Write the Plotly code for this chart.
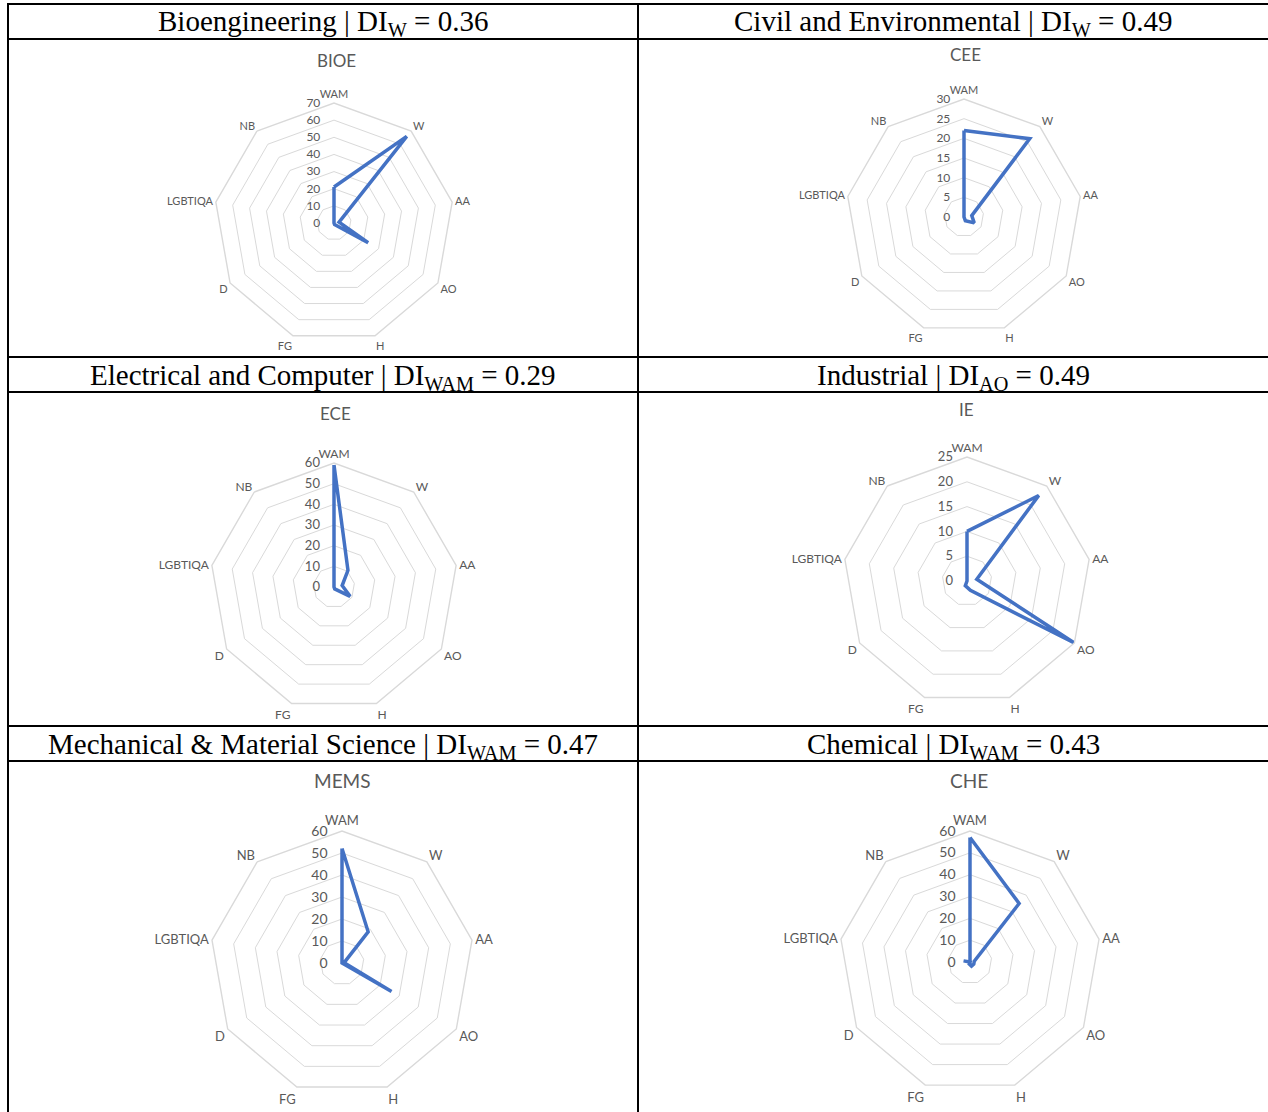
import plotly.graph_objects as go

W_PX, H_PX = 1268, 1112

categories = ["WAM", "W", "AA", "AO", "H", "FG", "D", "LGBTIQA", "NB"]

chart_titles = ["BIOE", "CEE", "ECE", "IE", "MEMS", "CHE"]
header_names = ["Bioengineering", "Civil and Environmental", "Electrical and Computer",
                "Industrial", "Mechanical &amp; Material Science", "Chemical"]
header_sub = ["W", "W", "WAM", "AO", "WAM", "WAM"]
header_di = ["0.36", "0.49", "0.29", "0.49", "0.47", "0.43"]

bioe = [21, 66, 3, 23, 1, 0, 0, 0, 0]
cee = [22, 26, 2, 3, 1, 0, 0, 0, 0]
ece = [59, 10.5, 4, 9, 1, 0, 0, 0, 0]
ie = [10, 22.5, 2, 25, 2, 1, 0, 0, 0]
mems = [52, 18.5, 1, 26, 0, 0, 0, 0, 0]
che = [57, 35, 2, 2, 2, 1, 0, 3, 0]

radial_max = [70, 30, 60, 25, 60, 60]
radial_step = [10, 5, 10, 5, 10, 10]

series = [bioe, cee, ece, ie, mems, che]

# layout (pixel) helpers
centers = [(334, 223), (964, 217), (334, 587), (967, 581), (342, 963), (970, 962)]
radii = [120, 118, 124, 124, 132, 131]
title_pos = [(336, 61), (965, 54), (335, 413), (966, 410), (342, 780), (969, 780)]
title_size = [17, 17, 17, 17, 19, 19]
label_size = [11, 11, 12, 12, 13, 13]
header_y = [23, 23, 377, 377, 746, 746]
col_center = [323, 953]

GRAY_TXT = "#595959"
GRID = "#d9d9d9"
BLUE = "#4472C4"


def px_x(x):
    return x / W_PX


def px_y(y):
    return 1 - y / H_PX


fig = go.Figure()
layout = dict(
    width=W_PX, height=H_PX,
    margin=dict(l=0, r=0, t=0, b=0),
    paper_bgcolor="white", plot_bgcolor="white",
    showlegend=False,
)

annotations = []
shapes = []

for i in range(6):
    pid = "polar" if i == 0 else f"polar{i+1}"
    vals = series[i]
    fig.add_trace(go.Scatterpolar(
        r=vals + [vals[0]],
        theta=categories + [categories[0]],
        mode="lines",
        line=dict(color=BLUE, width=3.5),
        subplot=pid,
        hoverinfo="skip",
    ))
    cx, cy = centers[i]
    R = radii[i]
    layout[pid] = dict(
        domain=dict(x=[px_x(cx - R), px_x(cx + R)], y=[px_y(cy + R), px_y(cy - R)]),
        bgcolor="white",
        gridshape="linear",
        angularaxis=dict(
            direction="clockwise", rotation=90,
            showgrid=False, showline=True, linecolor=GRID, linewidth=1.4,
            ticks="", tickfont=dict(family="Lato", size=label_size[i], color=GRAY_TXT),
        ),
        radialaxis=dict(
            range=[0, radial_max[i]], dtick=radial_step[i], tick0=0,
            angle=90, side="counterclockwise", tickangle=90,
            showline=False, ticks="outside", ticklen=9, tickcolor="rgba(0,0,0,0)",
            gridcolor=GRID, gridwidth=1.4,
            tickfont=dict(family="Lato", size=label_size[i] + 1, color=GRAY_TXT),
        ),
    )
    tx, ty = title_pos[i]
    annotations.append(dict(
        x=px_x(tx), y=px_y(ty), xref="paper", yref="paper",
        text=chart_titles[i], showarrow=False, xanchor="center", yanchor="middle",
        font=dict(family="Lato", size=title_size[i], color=GRAY_TXT),
    ))
    annotations.append(dict(
        x=px_x(col_center[i % 2]), y=px_y(header_y[i]), xref="paper", yref="paper",
        text=f"{header_names[i]} | DI<sub>{header_sub[i]}</sub> = {header_di[i]}",
        showarrow=False, xanchor="center", yanchor="middle",
        font=dict(family="Liberation Serif", size=29, color="black"),
    ))

# table lines
for y in [4, 39, 357, 392, 726, 761]:
    shapes.append(dict(type="line", xref="paper", yref="paper",
                       x0=px_x(7), x1=1, y0=px_y(y), y1=px_y(y),
                       line=dict(color="black", width=2)))
for x in [8, 638]:
    shapes.append(dict(type="line", xref="paper", yref="paper",
                       x0=px_x(x), x1=px_x(x), y0=px_y(3), y1=0,
                       line=dict(color="black", width=2)))

layout["annotations"] = annotations
layout["shapes"] = shapes
fig.update_layout(**layout)

fig.write_html("out.html", config={"displayModeBar": False},
               post_script="document.body.style.margin='0';document.body.style.overflow='hidden';")
